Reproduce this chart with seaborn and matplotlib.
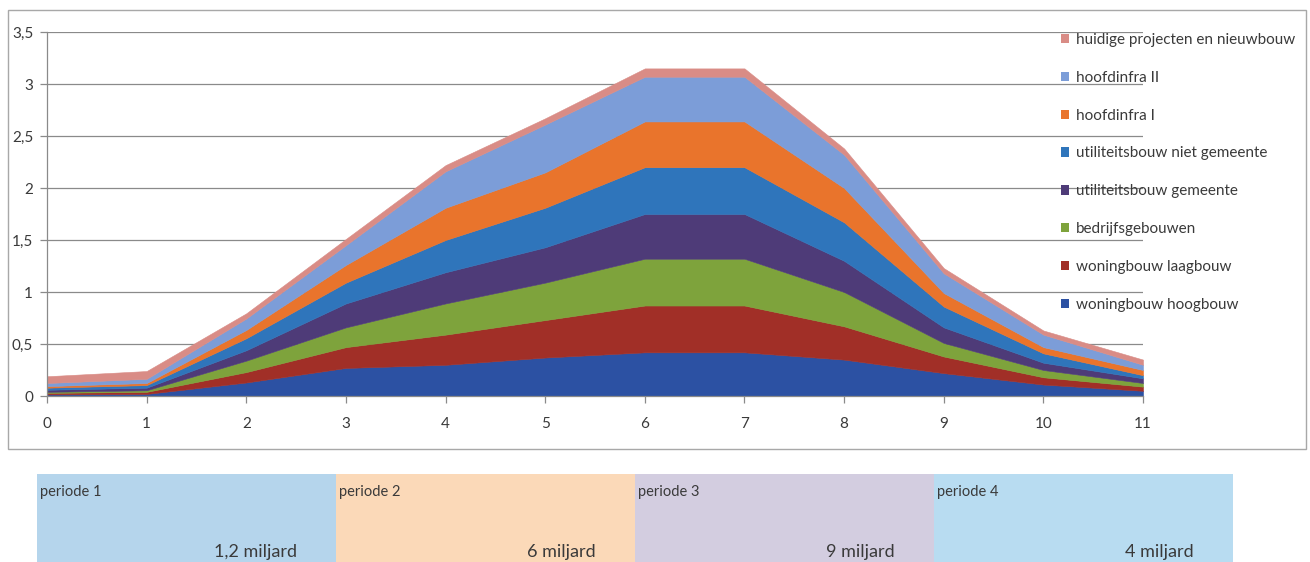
import matplotlib
matplotlib.use("Agg")
import matplotlib.pyplot as plt
from matplotlib.patches import Rectangle, Patch
import seaborn as sns

# --- data -------------------------------------------------------------
jaren = list(range(12))
xtick_labels = [str(j) for j in jaren]
ytick_values = [0, 0.5, 1, 1.5, 2, 2.5, 3, 3.5]
ytick_labels = ["0", "0,5", "1", "1,5", "2", "2,5", "3", "3,5"]

series_names = [
    "woningbouw hoogbouw",
    "woningbouw laagbouw",
    "bedrijfsgebouwen",
    "utiliteitsbouw gemeente",
    "utiliteitsbouw niet gemeente",
    "hoofdinfra I",
    "hoofdinfra II",
    "huidige projecten en nieuwbouw",
]
woningbouw_hoogbouw = [0.015, 0.02, 0.13, 0.27, 0.30, 0.37, 0.42, 0.42, 0.35, 0.22, 0.11, 0.05]
woningbouw_laagbouw = [0.015, 0.02, 0.10, 0.20, 0.29, 0.36, 0.45, 0.45, 0.32, 0.16, 0.07, 0.04]
bedrijfsgebouwen = [0.01, 0.015, 0.11, 0.19, 0.30, 0.36, 0.45, 0.45, 0.33, 0.13, 0.07, 0.035]
utiliteitsbouw_gemeente = [0.02, 0.025, 0.10, 0.23, 0.30, 0.34, 0.43, 0.43, 0.30, 0.15, 0.07, 0.045]
utiliteitsbouw_niet_gemeente = [0.02, 0.025, 0.115, 0.20, 0.31, 0.38, 0.45, 0.45, 0.37, 0.20, 0.09, 0.03]
hoofdinfra_1 = [0.015, 0.02, 0.08, 0.17, 0.31, 0.34, 0.44, 0.44, 0.33, 0.13, 0.06, 0.05]
hoofdinfra_2 = [0.03, 0.04, 0.11, 0.19, 0.35, 0.46, 0.43, 0.43, 0.32, 0.19, 0.12, 0.05]
huidige_projecten = [0.065, 0.075, 0.05, 0.06, 0.06, 0.06, 0.08, 0.08, 0.06, 0.05, 0.04, 0.05]

series_values = [
    woningbouw_hoogbouw,
    woningbouw_laagbouw,
    bedrijfsgebouwen,
    utiliteitsbouw_gemeente,
    utiliteitsbouw_niet_gemeente,
    hoofdinfra_1,
    hoofdinfra_2,
    huidige_projecten,
]

periodes = ["periode 1", "periode 2", "periode 3", "periode 4"]
bedragen = ["1,2 miljard", "6 miljard", "9 miljard", "4 miljard"]

# --- style ------------------------------------------------------------
sns.set_theme(style="white")
plt.rcParams["font.family"] = ["Lato", "DejaVu Sans"]

area_colors = sns.color_palette([
    "#2c51a3",  # hoogbouw
    "#a12f27",  # laagbouw
    "#7ea33c",  # bedrijfsgebouwen
    "#4e3b78",  # utiliteitsbouw gemeente
    "#2f75bb",  # utiliteitsbouw niet gemeente
    "#e9742c",  # hoofdinfra I
    "#7c9dd8",  # hoofdinfra II
    "#d98c86",  # huidige projecten
])
periode_colors = ["#b5d5ec", "#fbd9b8", "#d3cde0", "#b8dcf1"]
text_color = "#3a3a3a"
grid_color = "#8a8a8a"

W, H = 1310, 562
fig = plt.figure(figsize=(W / 100, H / 100), dpi=100)
fig.patch.set_facecolor("white")


def fx(px):
    return px / W


def fy(py):
    return 1 - py / H


# outer chart frame
fig.patches.append(Rectangle((fx(8), fy(449)), fx(1306) - fx(8), fy(10) - fy(449),
                             transform=fig.transFigure, fill=False,
                             edgecolor="#a8a8a8", linewidth=1.0, zorder=0))

ax = fig.add_axes([fx(47), fy(396), fx(1143) - fx(47), fy(32) - fy(396)])
ax.set_facecolor("none")

ax.stackplot(jaren, *series_values, colors=area_colors, linewidth=0.4,
             edgecolor="face", zorder=2)

ax.set_xlim(0, 11)
ax.set_ylim(0, 3.5)
ax.set_xticks(jaren)
ax.set_xticklabels(xtick_labels)
ax.set_yticks(ytick_values)
ax.set_yticklabels(ytick_labels)

ax.yaxis.grid(True, color=grid_color, linewidth=0.9)
ax.xaxis.grid(False)
ax.set_axisbelow(True)

for side in ("top", "right"):
    ax.spines[side].set_visible(False)
for side in ("left", "bottom"):
    ax.spines[side].set_color(grid_color)
    ax.spines[side].set_linewidth(0.9)
    ax.spines[side].set_zorder(3)

ax.tick_params(axis="x", direction="out", length=5, width=0.9, color=grid_color,
               labelsize=11, labelcolor=text_color, pad=10, bottom=True)
ax.tick_params(axis="y", direction="out", length=5, width=0.9, color=grid_color,
               labelsize=11, labelcolor=text_color, pad=5, left=True)

# legend: top entry is the top layer of the stack
handles = [Patch(facecolor=c, edgecolor="none") for c in area_colors][::-1]
labels = series_names[::-1]
fig.legend(handles, labels, loc="upper left",
           bbox_to_anchor=(fx(1061), fy(33)), frameon=False,
           fontsize=11, labelcolor=text_color, labelspacing=1.56,
           handlelength=0.55, handleheight=0.55, handletextpad=0.45,
           borderaxespad=0, borderpad=0)

# period bands under the chart
band_left, band_width, band_top, band_bottom = 37, 299, 474, 562
for i, (naam, bedrag, kleur) in enumerate(zip(periodes, bedragen, periode_colors)):
    left = band_left + i * band_width
    fig.patches.append(Rectangle((fx(left), fy(band_bottom)), fx(band_width),
                                 fy(band_top) - fy(band_bottom),
                                 transform=fig.transFigure, facecolor=kleur,
                                 edgecolor="none", zorder=0))
    fig.text(fx(left + 3), fy(492), naam, fontsize=10.5, color=text_color,
             ha="left", va="center")
    fig.text(fx(left + band_width - 39), fy(552), bedrag, fontsize=13,
             color=text_color, ha="right", va="center")

fig.savefig("out.png", dpi=100)
